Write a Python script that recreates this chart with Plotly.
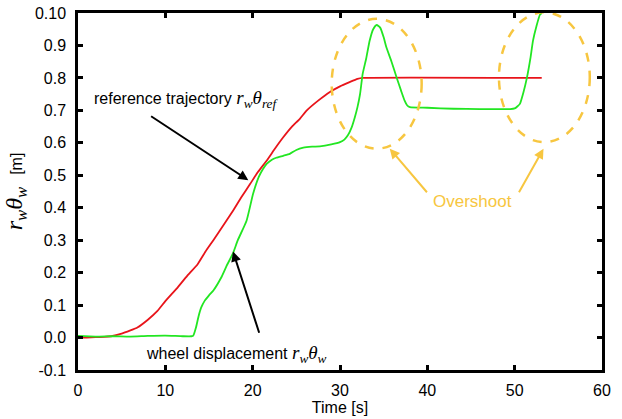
import plotly.graph_objects as go

# ---- data ----
ref_time = [0, 1, 2, 3, 3.8, 5, 6, 6.8, 8, 9.1, 10, 11.4, 12.5, 13.7, 14.6, 15.5, 16.8, 17.75,
            18.7, 19.7, 20.6, 21.6, 22.5, 23.5, 24.5, 25.4, 26.2, 27.5, 28.8, 30, 31.1, 32, 32.6, 53.1]
ref_vals = [0, 0, 0.001, 0.002, 0.004, 0.012, 0.022, 0.031, 0.055, 0.082, 0.112, 0.154, 0.19, 0.226,
            0.265, 0.300, 0.352, 0.391, 0.432, 0.473, 0.51, 0.545, 0.58, 0.617, 0.65, 0.674, 0.70,
            0.73, 0.756, 0.774, 0.787, 0.797, 0.80, 0.80]

wheel_time = [0, 2, 4, 6, 8, 10, 12, 13.0, 13.2, 13.5, 13.8, 14.1, 14.5, 15.0, 15.5, 16.4, 17.0, 17.75,
              18.3, 19.3, 20.05, 20.7, 21.2, 21.6, 22.2, 22.7, 23.5, 24.25, 25.0, 25.8, 26.8, 27.7,
              29.0, 30.0, 30.5, 30.9, 31.3, 31.7, 32.0, 32.3, 32.6, 33.0, 33.4, 33.8, 34.2, 34.6,
              35.0, 35.3, 35.9, 36.5, 37.0, 37.4, 37.7, 38.0, 40, 43, 46, 49.5, 50.0, 50.3, 50.6,
              51.0, 51.4, 51.8, 52.1, 52.5, 52.9, 53.1]
wheel_vals = [0.005, 0.003, 0.004, 0.003, 0.005, 0.006, 0.004, 0.004, 0.006, 0.03, 0.065, 0.092, 0.113,
              0.13, 0.145, 0.185, 0.22, 0.26, 0.30, 0.36, 0.443, 0.495, 0.52, 0.535, 0.548, 0.554,
              0.56, 0.566, 0.578, 0.585, 0.588, 0.589, 0.595, 0.602, 0.61, 0.623, 0.645, 0.679,
              0.71, 0.751, 0.813, 0.86, 0.915, 0.95, 0.963, 0.955, 0.925, 0.895, 0.85, 0.80, 0.76,
              0.73, 0.715, 0.71, 0.708, 0.705, 0.704, 0.704, 0.706, 0.712, 0.72, 0.755, 0.80, 0.86,
              0.915, 0.96, 0.995, 1.0]

x_ticks = [0, 10, 20, 30, 40, 50, 60]
y_ticks = [-0.1, 0.0, 0.1, 0.2, 0.3, 0.4, 0.5, 0.6, 0.7, 0.8, 0.9, 1.0]
y_tick_text = ["-0.1", "0.0", "0.1", "0.2", "0.3", "0.4", "0.5", "0.6", "0.7", "0.8", "0.9", "0.10"]

# overshoot ellipses: (center t, center value, half-width t, half-height value)
ellipses = [(34.2, 0.782, 5.15, 0.20), (53.4, 0.802, 5.2, 0.20)]

RED = "#e8141a"
GREEN = "#22e622"
ORANGE = "#f7c640"
SANS = "Liberation Sans, Arial, sans-serif"
SERIF = "Liberation Serif"

fig = go.Figure()
fig.add_trace(go.Scatter(x=ref_time, y=ref_vals, mode="lines",
                         line=dict(color=RED, width=1.8, shape="spline", smoothing=0.4),
                         showlegend=False))
fig.add_trace(go.Scatter(x=wheel_time, y=wheel_vals, mode="lines",
                         line=dict(color=GREEN, width=1.8, shape="spline", smoothing=0.5),
                         showlegend=False))

for cx, cy, rx, ry in ellipses:
    fig.add_shape(type="circle", xref="x", yref="y",
                  x0=cx - rx, x1=cx + rx, y0=cy - ry, y1=cy + ry,
                  line=dict(color=ORANGE, width=2.5, dash="dash"))

math = "font-family:Liberation Serif;font-size:19px"
fig.add_annotation(x=1.6, y=0.735, xref="x", yref="y", xanchor="left", yanchor="middle",
                   text=("reference trajectory <span style='%s'><i>r</i><sub><i>w</i></sub>"
                         "<i>θ</i><sub><i>ref</i></sub></span>" % math),
                   showarrow=False, font=dict(family=SANS, size=16, color="black"))
fig.add_annotation(x=7.6, y=-0.05, xref="x", yref="y", xanchor="left", yanchor="middle",
                   text=("wheel displacement <span style='%s'><i>r</i><sub><i>w</i></sub>"
                         "<i>θ</i><sub><i>w</i></sub></span>" % math),
                   showarrow=False, font=dict(family=SANS, size=16, color="black"))
fig.add_annotation(x=45.2, y=0.42, xref="x", yref="y", text="Overshoot", showarrow=False,
                   font=dict(family=SANS, size=17, color=ORANGE))

# arrows (tail -> head), in data coordinates
black_arrows = [((8.2, 0.685), (19.5, 0.485)), ((20.8, 0.01), (17.75, 0.265))]
for (tx, ty), (hx, hy) in black_arrows:
    fig.add_annotation(x=hx, y=hy, ax=tx, ay=ty, xref="x", yref="y", axref="x", ayref="y",
                       showarrow=True, arrowhead=2, arrowsize=1, arrowwidth=2, arrowcolor="black",
                       text="")
orange_arrows = [((40.1, 0.443), (35.7, 0.582)), ((50.4, 0.443), (53.3, 0.582))]
for (tx, ty), (hx, hy) in orange_arrows:
    fig.add_annotation(x=hx, y=hy, ax=tx, ay=ty, xref="x", yref="y", axref="x", ayref="y",
                       showarrow=True, arrowhead=2, arrowsize=1, arrowwidth=2, arrowcolor=ORANGE,
                       text="")

axis_common = dict(showline=True, linecolor="black", linewidth=2.5, mirror="ticks",
                   ticks="inside", ticklen=5, tickwidth=2.5, tickcolor="black",
                   showgrid=False, zeroline=False,
                   tickfont=dict(family=SANS, size=16, color="black"))

fig.update_xaxes(range=[0, 60], tickvals=x_ticks, ticklabelstandoff=4,
                 title=dict(text="Time [s]", font=dict(family=SANS, size=16, color="black"),
                            standoff=0),
                 **axis_common)
fig.update_yaxes(range=[-0.1, 1.0], tickvals=y_ticks, ticktext=y_tick_text, ticklabelstandoff=6,
                 title=dict(text=("<i>r</i><sub><i>w</i></sub><i>θ</i><sub><i>w</i></sub>"
                                  "  <span style='font-family:Liberation Sans;font-size:16px'>[m]</span>"),
                            font=dict(family=SERIF, size=24, color="black"), standoff=6),
                 **axis_common)

fig.update_layout(width=622, height=419, plot_bgcolor="white", paper_bgcolor="white",
                  margin=dict(l=78, r=20, t=13, b=49, autoexpand=False), showlegend=False)

fig.write_html("out.html", config={"displayModeBar": False},
               post_script="document.body.style.margin='0';document.body.style.overflow='hidden';")
